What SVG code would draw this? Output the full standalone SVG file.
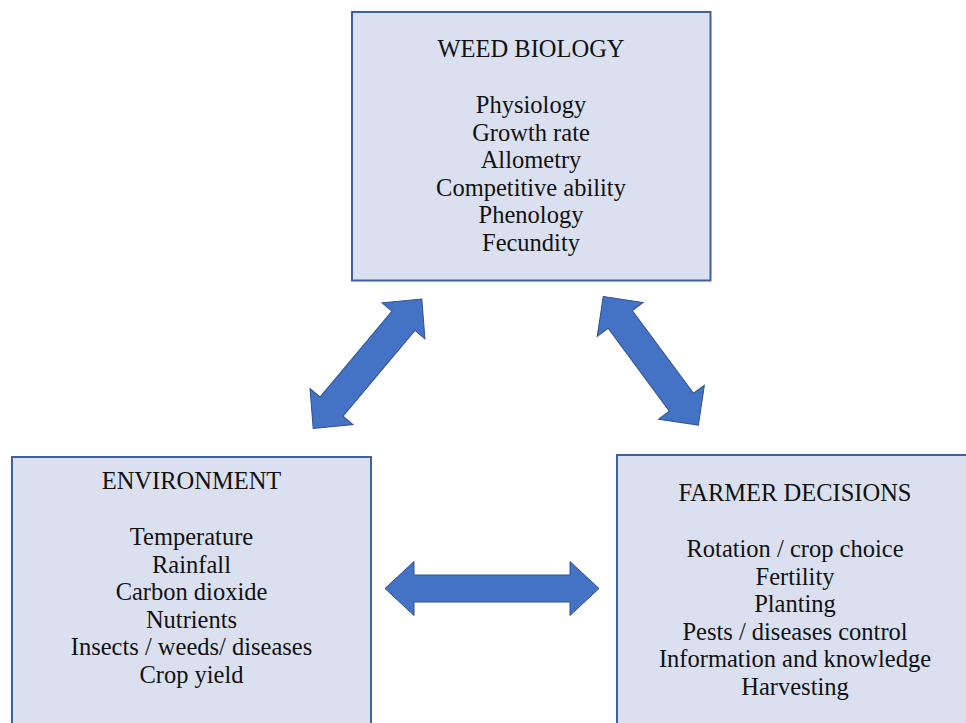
<svg xmlns="http://www.w3.org/2000/svg" width="966" height="723" viewBox="0 0 966 723">
<style>
.box{fill:#dbe0f1;stroke:#3f5f9f;stroke-width:2}
.t{font-family:'Liberation Serif','Times New Roman',Times,'DejaVu Serif',serif;font-size:24.5px;fill:#111;text-anchor:middle}
.arr{fill:#4472c4;stroke:#2f528f;stroke-width:1;stroke-linejoin:miter}
</style>
<rect width="966" height="723" fill="#ffffff"/>
<g id="weed-biology">
<rect class="box" x="352" y="12" width="358.5" height="268.5"/>
<text class="t" x="531" y="57">WEED BIOLOGY</text>
<text class="t" x="531" y="113">Physiology</text>
<text class="t" x="531" y="140.5">Growth rate</text>
<text class="t" x="531" y="168">Allometry</text>
<text class="t" x="531" y="195.5">Competitive ability</text>
<text class="t" x="531" y="223">Phenology</text>
<text class="t" x="531" y="250.5">Fecundity</text>
</g>
<g id="environment">
<rect class="box" x="12" y="457" width="359" height="280"/>
<text class="t" x="191.5" y="489">ENVIRONMENT</text>
<text class="t" x="191.5" y="545">Temperature</text>
<text class="t" x="191.5" y="572.5">Rainfall</text>
<text class="t" x="191.5" y="600">Carbon dioxide</text>
<text class="t" x="191.5" y="627.5">Nutrients</text>
<text class="t" x="191.5" y="655">Insects / weeds/ diseases</text>
<text class="t" x="191.5" y="682.5">Crop yield</text>
</g>
<g id="farmer-decisions">
<rect class="box" x="617" y="455" width="360" height="280"/>
<text class="t" x="795" y="501">FARMER DECISIONS</text>
<text class="t" x="795" y="557">Rotation / crop choice</text>
<text class="t" x="795" y="584.5">Fertility</text>
<text class="t" x="795" y="612">Planting</text>
<text class="t" x="795" y="639.5">Pests / diseases control</text>
<text class="t" x="795" y="667">Information and knowledge</text>
<text class="t" x="795" y="694.5">Harvesting</text>
</g>
<g id="connectors">
<path class="arr" transform="translate(367.5,363.7) rotate(-50)" d="M-84.5,0 L-56,-28 L-56,-15 L56,-15 L56,-28 L84.5,0 L56,28 L56,15 L-56,15 L-56,28 Z"/>
<path class="arr" transform="translate(650.8,360.8) rotate(53.5)" d="M-80,0 L-51.5,-28.5 L-51.5,-15 L51.5,-15 L51.5,-28.5 L80,0 L51.5,28.5 L51.5,15 L-51.5,15 L-51.5,28.5 Z"/>
<path class="arr" transform="translate(492,588.5)" d="M-107,0 L-78,-27 L-78,-13.5 L78,-13.5 L78,-27 L107,0 L78,27 L78,13.5 L-78,13.5 L-78,27 Z"/>
</g>
</svg>
